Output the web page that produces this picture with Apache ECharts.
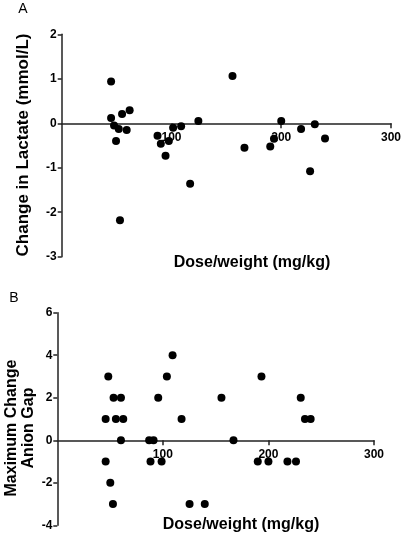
<!DOCTYPE html>
<html><head><meta charset="utf-8">
<script src="https://cdn.jsdelivr.net/npm/echarts@6/dist/echarts.min.js"></script>
<style>html,body{margin:0;padding:0;background:#fff}#c{width:404px;height:535px}</style>
</head><body><div id="c"></div>
<script>
const doseA = [45.0, 45.0, 47.7, 52.0, 49.5, 55.0, 59.2, 61.9, 53.1, 87.3, 90.3, 94.6, 97.6, 101.5, 108.8, 124.5, 117.0, 155.6, 166.5, 190.0, 193.4, 200.0, 218.1, 226.3, 230.6, 239.9];
const lactateA = [0.94, 0.12, -0.05, -0.13, -0.40, 0.21, -0.15, 0.29, -2.18, -0.28, -0.46, -0.73, -0.40, -0.10, -0.07, 0.05, -1.36, 1.06, -0.55, -0.52, -0.35, 0.05, -0.13, -1.08, -0.02, -0.34];
const doseB = [45.8, 48.3, 53.3, 55.5, 60.3, 62.5, 60.3, 45.8, 50.2, 52.7, 87.0, 91.2, 88.3, 98.8, 95.6, 103.8, 109.2, 117.7, 125.3, 139.7, 155.5, 166.9, 193.4, 189.9, 200.0, 218.0, 226.1, 230.6, 234.6, 240.0];
const anionGapB = [1, 3, 2, 1, 2, 1, 0, -1, -2, -3, 0, 0, -1, -1, 2, 3, 4, 1, -3, -3, 2, 0, 3, -1, -1, -1, -1, 2, 1, 1];
const xTicks = [0, 300, 100];
const yTicksA = [-3, 2, 1];
const yTicksB = [-4, 6, 2];

const FONT = '"Liberation Sans", Arial, sans-serif';
const lineStyle = {color: '#222', width: 1.5};
const gridA = {left: 61.7, top: 34.3, width: 331, height: 222.4};
const gridB = {left: 57.3, top: 312.7, width: 316.7, height: 212.6};
// offset of x axis so that it sits on y = 0
function zeroOffset(g, t) { return -g.height * (0 - t[0]) / (t[1] - t[0]); }
function xAxis(gi, off) {
  return {gridIndex: gi, type: 'value', min: xTicks[0], max: xTicks[1], interval: xTicks[2],
    position: 'bottom', offset: off,
    axisLine: {show: true, onZero: false, lineStyle},
    axisTick: {show: true, length: 5, lineStyle},
    axisLabel: {showMinLabel: false, margin: 8, color: '#000', fontSize: 12, fontWeight: 'bold', fontFamily: FONT},
    splitLine: {show: false}};
}
function yAxis(gi, t) {
  return {gridIndex: gi, type: 'value', min: t[0], max: t[1], interval: t[2],
    axisLine: {show: true, onZero: false, lineStyle},
    axisTick: {show: true, length: 4, lineStyle},
    axisLabel: {margin: 5, color: '#000', fontSize: 12, fontWeight: 'bold', fontFamily: FONT},
    splitLine: {show: false}};
}
const chart = echarts.init(document.getElementById('c'), null, {renderer: 'canvas'});
chart.setOption({
  animation: false,
  backgroundColor: '#fff',
  grid: [gridA, gridB],
  xAxis: [xAxis(0, zeroOffset(gridA, yTicksA)), xAxis(1, zeroOffset(gridB, yTicksB))],
  yAxis: [yAxis(0, yTicksA), yAxis(1, yTicksB)],
  series: [
    {type: 'scatter', xAxisIndex: 0, yAxisIndex: 0, symbolSize: 8, itemStyle: {color: '#000', opacity: 1},
      data: doseA.map((d, i) => [d, lactateA[i]])},
    {type: 'scatter', xAxisIndex: 1, yAxisIndex: 1, symbolSize: 8, itemStyle: {color: '#000', opacity: 1},
      data: doseB.map((d, i) => [d, anionGapB[i]])}
  ],
  graphic: [
    {type: 'text', x: 23, y: 9, style: {text: 'A', font: '14px ' + FONT, fill: '#000', textAlign: 'center', textVerticalAlign: 'middle'}},
    {type: 'text', x: 14, y: 298, style: {text: 'B', font: '14px ' + FONT, fill: '#000', textAlign: 'center', textVerticalAlign: 'middle'}},
    {type: 'text', x: 23, y: 145, rotation: Math.PI / 2, style: {text: 'Change in Lactate (mmol/L)', font: 'bold 17px ' + FONT, fill: '#000', textAlign: 'center', textVerticalAlign: 'middle'}},
    {type: 'text', x: 252, y: 263, style: {text: 'Dose/weight (mg/kg)', font: 'bold 16px ' + FONT, fill: '#000', textAlign: 'center', textVerticalAlign: 'middle'}},
    {type: 'text', x: 20, y: 428, rotation: Math.PI / 2, style: {text: 'Maximum Change\nAnion Gap', font: 'bold 16px ' + FONT, lineHeight: 17, fill: '#000', textAlign: 'center', textVerticalAlign: 'middle'}},
    {type: 'text', x: 241, y: 525, style: {text: 'Dose/weight (mg/kg)', font: 'bold 16px ' + FONT, fill: '#000', textAlign: 'center', textVerticalAlign: 'middle'}}
  ]
});
</script></body></html>
